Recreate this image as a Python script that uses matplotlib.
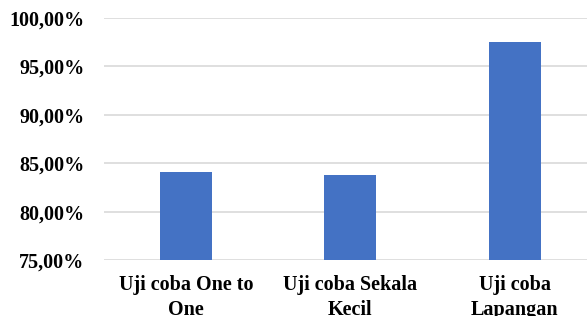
import matplotlib.pyplot as plt
from matplotlib.ticker import FuncFormatter

# data
categories = ["Uji coba One to\nOne", "Uji coba Sekala\nKecil", "Uji coba\nLapangan"]
values = [84.1, 83.8, 97.55]
yticks = [75, 80, 85, 90, 95, 100]

plt.rcParams['font.family'] = ['Liberation Serif', 'DejaVu Serif']

W, H = 587, 316
fig = plt.figure(figsize=(W / 100, H / 100), dpi=100)
ax = fig.add_axes([103.75 / W, (H - 260) / H, (597 - 103.75) / W, (260 - 18) / H])

x = range(len(categories))
ax.bar(x, values, width=0.316, bottom=0, color="#4472C4", zorder=3)
ax.set_xlim(-0.5, 2.5)
ax.set_ylim(75, 100)
ax.set_yticks(yticks)
ax.yaxis.set_major_formatter(FuncFormatter(lambda v, p: f"{v:.2f}%".replace(".", ",")))
ax.set_xticks(list(x))
ax.set_xticklabels(categories, fontsize=14.5, fontweight="bold", linespacing=1.3)
for lbl in ax.get_yticklabels():
    lbl.set_fontsize(14.5)
    lbl.set_fontweight("bold")

ax.grid(axis="y", color="#d9d9d9", linewidth=1.2, zorder=0)
ax.tick_params(axis="both", length=0)
ax.tick_params(axis="y", pad=14)
ax.tick_params(axis="x", pad=11)
for s in ax.spines.values():
    s.set_visible(False)

fig.savefig("out.png", dpi=100)
